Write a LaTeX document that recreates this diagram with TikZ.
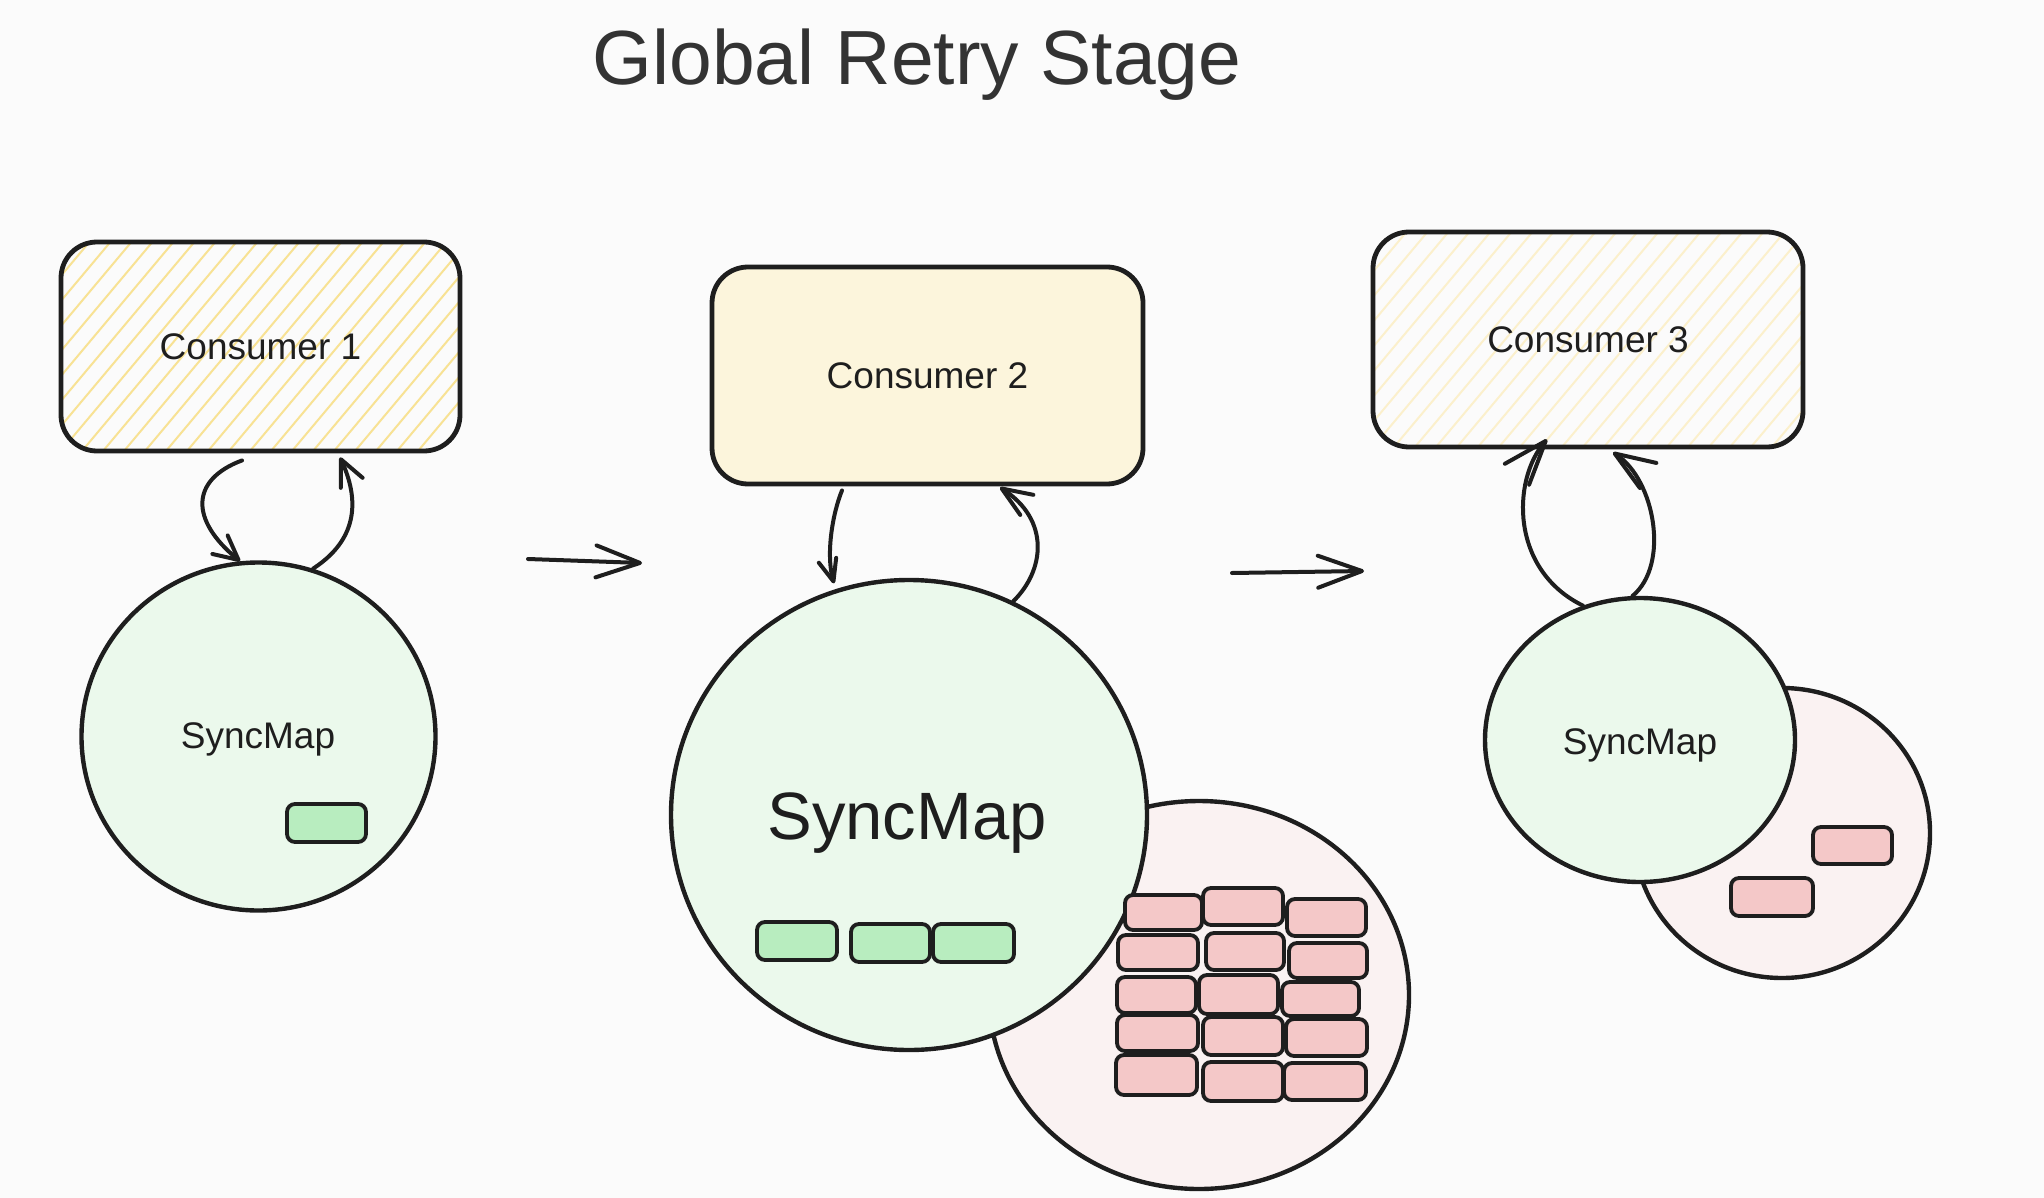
\documentclass[tikz,border=0pt]{standalone}
\usepackage{fontspec}
\setmainfont{Liberation Sans}
\usetikzlibrary{shapes.geometric,arrows.meta}
\definecolor{ink}{HTML}{1E1E1E}
\definecolor{titleink}{HTML}{333333}
\definecolor{bgc}{HTML}{FBFBFB}
\definecolor{hatchA}{HTML}{F8E294}
\definecolor{hatchB}{HTML}{FBF0CC}
\definecolor{consfill}{HTML}{FCF5DC}
\definecolor{greenC}{HTML}{EBF9EC}
\definecolor{greenR}{HTML}{B8EDBF}
\definecolor{pinkC}{HTML}{FAF2F2}
\definecolor{pinkR}{HTML}{F4C8C8}
\tikzset{
  consbox/.style={draw=ink, line width=2.4pt, rounded corners=18pt, inner sep=0pt,
    font=\fontsize{18.5}{22}\selectfont, text=ink},
  hatch/.style={path picture={\foreach \k in {-10,...,22}{
      \draw[#1, line width=1pt] ([xshift=\k*10.5pt]path picture bounding box.south west) -- ++(95pt,113.2pt);}}},
  blob/.style={ellipse, draw=ink, line width=2.2pt, inner sep=0pt},
  lbl/.style={inner sep=0pt, text=ink, font=\fontsize{18.5}{22}\selectfont},
  grect/.style={draw=ink, line width=1.9pt, fill=greenR, rounded corners=4pt, inner sep=0pt,
    minimum width=40pt, minimum height=19pt},
  prect/.style={draw=ink, line width=1.9pt, fill=pinkR, rounded corners=4pt, inner sep=0pt,
    minimum width=40pt, minimum height=18pt},
  conn/.style={draw=ink, line width=2pt, line cap=round, line join=round},
}
\begin{document}
\begin{tikzpicture}[x=0.5pt,y=-0.5pt]
\useasboundingbox (0,0) rectangle (2044,1198);
\fill[bgc] (0,0) rectangle (2044,1198);

% title
\node[inner sep=0pt, text=titleink, font=\fontsize{38.4}{44}\selectfont] (title) at (917,65) {Global Retry Stage};

% consumers
\node[consbox, hatch=hatchA, minimum width=199.5pt, minimum height=104.5pt] (cons1) at (260.5,346.5) {Consumer 1};
\node[consbox, fill=consfill, minimum width=215.5pt, minimum height=108.5pt] (cons2) at (927.5,375.5) {Consumer 2};
\node[consbox, hatch=hatchB, minimum width=215pt, minimum height=107.5pt] (cons3) at (1588,339.5) {Consumer 3};

% circles
\node[blob, fill=greenC, minimum width=177pt, minimum height=174pt] (circ1) at (258.5,736.5) {};
\node[lbl] (t1) at (258,739) {SyncMap};
\node[grect, minimum width=39.5pt] (g1) at (326.5,823) {};

\node[blob, fill=pinkC, minimum width=210pt, minimum height=194pt] (pink2) at (1199,995) {};
\node[blob, fill=greenC, minimum width=238pt, minimum height=235pt] (circ2) at (909,815) {};
\node[lbl, font=\fontsize{33.5}{40}\selectfont] (t2) at (907,823) {SyncMap};
\node[grect] (g2a) at (797,941) {};
\node[grect, minimum width=39.5pt] (g2b) at (890.5,943) {};
\node[grect, minimum width=40.5pt] (g2c) at (973.5,943) {};

\node[prect, minimum width=38.5pt, minimum height=17.5pt] (p11) at (1163.5,912.5) {};
\node[prect, minimum height=18.5pt] (p12) at (1243,906.5) {};
\node[prect, minimum width=39.5pt, minimum height=18.5pt] (p13) at (1326.5,917.5) {};
\node[prect, minimum height=17.5pt] (p21) at (1158,952.5) {};
\node[prect, minimum width=39pt, minimum height=18.5pt] (p22) at (1245,951.5) {};
\node[prect, minimum width=39pt, minimum height=17.5pt] (p23) at (1328,960.5) {};
\node[prect, minimum width=39.5pt] (p31) at (1156.5,995) {};
\node[prect, minimum width=39.5pt, minimum height=19.5pt] (p32) at (1238.5,994.5) {};
\node[prect, minimum width=38.5pt, minimum height=17pt] (p33) at (1320.5,999) {};
\node[prect, minimum width=40.5pt] (p41) at (1157.5,1033) {};
\node[prect, minimum height=19pt] (p42) at (1243,1036) {};
\node[prect, minimum width=40.5pt, minimum height=18.5pt] (p43) at (1326.5,1037.5) {};
\node[prect, minimum width=40.5pt, minimum height=20pt] (p51) at (1156.5,1075) {};
\node[prect, minimum height=19.5pt] (p52) at (1243,1081.5) {};
\node[prect, minimum width=41pt, minimum height=18.5pt] (p53) at (1325,1081.5) {};

\node[blob, fill=pinkC, minimum width=148pt, minimum height=145pt] (pink3) at (1782,833) {};
\node[blob, fill=greenC, minimum width=155pt, minimum height=142pt] (circ3) at (1640,740) {};
\node[lbl] (t3) at (1640,745) {SyncMap};
\node[prect, minimum width=39.5pt, minimum height=18.5pt] (pa) at (1852.5,845.5) {};
\node[prect, minimum width=41pt, minimum height=19pt] (pb) at (1772,897) {};

% stage arrows
\coordinate (h1s) at (528,559);
\coordinate (h1e) at (642,563);
\coordinate (h2s) at (1232,573);
\coordinate (h2e) at (1364,571);
\draw[conn, -{Straight Barb[length=22pt,width=16pt,round]}] (h1s) -- (h1e);
\draw[conn, -{Straight Barb[length=22pt,width=16pt,round]}] (h2s) -- (h2e);

% consumer 1 <-> syncmap
\draw[conn, -{Straight Barb[length=12pt,width=12pt,round]}]
  ([xshift=-9.25pt,yshift=-3.5pt]cons1.south) .. controls (190,480) and (190,520) .. (circ1.96);
\draw[conn, -{Straight Barb[length=13pt,width=12pt,round]}]
  (circ1.72) .. controls (365,535) and (355,490) .. ([xshift=39.75pt,yshift=-2pt]cons1.south);

% consumer 2 <-> syncmap
\draw[conn, shorten >=3pt, -{Straight Barb[length=11pt,width=9pt,round]}]
  ([xshift=-42.75pt,yshift=-2pt]cons2.south) .. controls (832,515) and (826,555) .. (circ2.108);
\draw[conn, -{Straight Barb[length=15pt,width=12pt,round]}]
  (circ2.64) .. controls (1045,570) and (1050,520) .. ([xshift=36.25pt,yshift=-0.5pt]cons2.south);

% consumer 3 <- syncmap
\draw[conn, -{Straight Barb[length=22pt,width=16pt,round]}]
  (circ3.113) .. controls (1510,570) and (1512,480) .. ([xshift=-20.5pt,yshift=5pt]cons3.south);
\draw[conn, -{Straight Barb[length=20pt,width=15pt,round]}]
  (circ3.93) .. controls (1670,565) and (1655,480) .. ([xshift=12.5pt,yshift=-1.5pt]cons3.south);
\end{tikzpicture}
\end{document}
